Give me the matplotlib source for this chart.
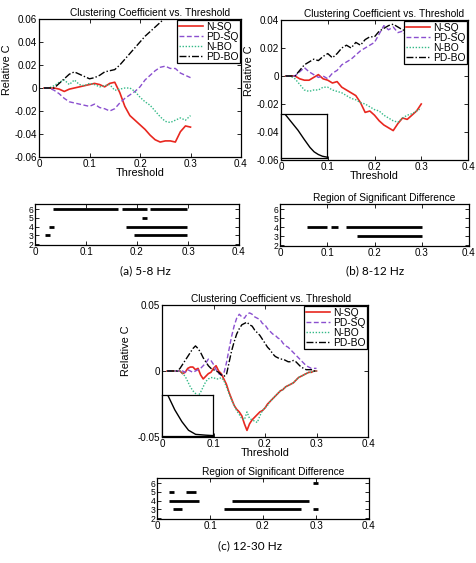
import numpy as np
import matplotlib
matplotlib.use('Agg')
import matplotlib.pyplot as plt
from matplotlib.ticker import FuncFormatter

plt.rcParams['font.family'] = ['Liberation Sans', 'DejaVu Sans']
plt.rcParams['axes.unicode_minus'] = False

# ---------------- data ----------------
series_names = ['N-SQ', 'PD-SQ', 'N-BO', 'PD-BO']

thr_ab = np.round(np.arange(0.01, 0.3001, 0.01), 3)   # 0.01 .. 0.30
thr_c = np.round(np.arange(0.01, 0.3001, 0.005), 3)   # 0.010 .. 0.300

# (a) 5-8 Hz
a_nsq = [0, 0, 0, -0.001, -0.003, -0.001, 0, 0.001, 0.002, 0.003,
         0.004, 0.003, 0.001, 0.004, 0.005, -0.004, -0.016, -0.024, -0.028, -0.032,
         -0.036, -0.041, -0.045, -0.047, -0.046, -0.046, -0.047, -0.038, -0.033, -0.034]
a_pdsq = [0, 0, -0.002, -0.005, -0.009, -0.012, -0.013, -0.014, -0.015, -0.016,
          -0.014, -0.017, -0.018, -0.020, -0.018, -0.013, -0.009, -0.006, -0.003, 0.001,
          0.007, 0.011, 0.015, 0.018, 0.019, 0.017, 0.017, 0.013, 0.011, 0.009]
a_nbo = [0, 0, 0.002, 0.005, 0.007, 0.003, 0.007, 0.003, 0.002, 0.004,
         0.003, 0.001, 0.002, 0.003, -0.002, -0.001, 0.0, 0.0, -0.003, -0.008,
         -0.012, -0.015, -0.020, -0.025, -0.029, -0.030, -0.028, -0.026, -0.028, -0.024]
a_pdbo = [0, 0, 0, 0.004, 0.008, 0.012, 0.014, 0.012, 0.010, 0.008,
          0.009, 0.011, 0.014, 0.015, 0.016, 0.020, 0.025, 0.030, 0.035, 0.040,
          0.045, 0.049, 0.053, 0.057, 0.061, 0.064, 0.066, 0.068, 0.070, 0.071]

# (b) 8-12 Hz
b_nsq = [0, 0, 0, -0.002, -0.003, -0.003, -0.001, 0.001, -0.002, -0.003,
         -0.005, -0.004, -0.008, -0.010, -0.012, -0.014, -0.019, -0.026, -0.025, -0.028,
         -0.032, -0.035, -0.037, -0.039, -0.034, -0.030, -0.031, -0.028, -0.025, -0.020]
b_pdsq = [0, 0, 0, 0.003, 0.006, 0.003, 0.001, -0.001, 0.0, -0.002,
          0.002, 0.004, 0.008, 0.010, 0.012, 0.015, 0.018, 0.020, 0.022, 0.024,
          0.030, 0.036, 0.033, 0.035, 0.031, 0.032, 0.028, 0.027, 0.025, 0.024]
b_nbo = [0, 0, -0.002, -0.006, -0.010, -0.011, -0.010, -0.010, -0.008, -0.008,
         -0.010, -0.011, -0.012, -0.014, -0.016, -0.017, -0.019, -0.020, -0.022, -0.024,
         -0.025, -0.028, -0.030, -0.032, -0.033, -0.030, -0.028, -0.027, -0.025, -0.023]
b_pdbo = [0, 0, 0, 0.004, 0.008, 0.010, 0.012, 0.011, 0.014, 0.016,
          0.013, 0.016, 0.020, 0.022, 0.020, 0.024, 0.022, 0.026, 0.028, 0.028,
          0.032, 0.034, 0.036, 0.037, 0.035, 0.033, 0.032, 0.030, 0.028, 0.027]

# (c) 12-30 Hz
c_nsq = [0, 0, 0, 0, 0, 0,
         -0.002, -0.001, 0.002, 0.003, 0.003, 0.001, 0.002, -0.003, -0.006, -0.004, -0.002, -0.001,
         0.002, 0.004, 0.0, -0.002, -0.006, -0.010, -0.016, -0.021, -0.026, -0.029, -0.031, -0.034,
         -0.040, -0.045, -0.040, -0.037, -0.035, -0.033, -0.031, -0.030, -0.028, -0.025, -0.023, -0.021,
         -0.019, -0.017, -0.015, -0.014, -0.012, -0.011, -0.010, -0.009, -0.007, -0.005, -0.004, -0.003,
         -0.002, -0.001, -0.001, 0.0, 0.0]
c_pdsq = [0, 0, 0, 0, 0, 0,
          0.0, -0.001, 0.001, 0.0, -0.001, 0.0, 0.001, 0.002, 0.004, 0.006, 0.009, 0.008,
          0.005, 0.001, -0.002, -0.003, -0.002, 0.006, 0.016, 0.026, 0.034, 0.040, 0.043, 0.041,
          0.040, 0.043, 0.044, 0.043, 0.041, 0.040, 0.039, 0.036, 0.035, 0.032, 0.030, 0.028,
          0.027, 0.025, 0.024, 0.021, 0.019, 0.018, 0.016, 0.014, 0.012, 0.010, 0.008, 0.006,
          0.004, 0.003, 0.002, 0.002, 0.002]
c_nbo = [0, 0, 0, 0, 0, 0,
         -0.002, -0.004, -0.008, -0.012, -0.015, -0.017, -0.019, -0.016, -0.012, -0.008, -0.006, -0.005,
         -0.005, -0.006, -0.006, -0.005, -0.007, -0.012, -0.017, -0.022, -0.026, -0.030, -0.033, -0.036,
         -0.037, -0.031, -0.036, -0.037, -0.038, -0.039, -0.034, -0.030, -0.028, -0.026, -0.023, -0.021,
         -0.019, -0.017, -0.015, -0.014, -0.012, -0.011, -0.010, -0.009, -0.007, -0.005, -0.004, -0.003,
         -0.002, -0.001, -0.001, 0.0, 0.0]
c_pdbo = [0, 0, 0, 0, 0, 0.002,
          0.005, 0.008, 0.011, 0.014, 0.017, 0.019, 0.017, 0.014, 0.010, 0.007, 0.004, 0.002,
          0.001, 0.0, -0.001, -0.003, -0.004, -0.003, 0.006, 0.015, 0.022, 0.028, 0.032, 0.035,
          0.036, 0.037, 0.035, 0.034, 0.031, 0.029, 0.027, 0.024, 0.021, 0.018, 0.016, 0.013,
          0.011, 0.010, 0.009, 0.009, 0.008, 0.007, 0.007, 0.008, 0.007, 0.005, 0.003, 0.002,
          0.001, 0.001, 0.001, 0.0, 0.0]

# inset curves (normalised units)
inset_b_x = [0.10, 0.20, 0.37, 0.50, 0.63, 0.72, 0.81, 0.90, 1.00]
inset_b_y = [0.98, 0.85, 0.63, 0.43, 0.24, 0.14, 0.08, 0.04, 0.02]
inset_c_x = [0.12, 0.25, 0.39, 0.52, 0.66, 0.86, 1.00]
inset_c_y = [0.98, 0.64, 0.35, 0.14, 0.04, 0.02, 0.01]

# regions of significant difference: row, start, end
a_rows = [6, 6, 6, 5, 4, 4, 3, 3]
a_start = [0.036, 0.171, 0.225, 0.209, 0.027, 0.178, 0.020, 0.194]
a_end = [0.163, 0.219, 0.299, 0.220, 0.037, 0.299, 0.029, 0.299]
b_rows = [4, 4, 4, 3]
b_start = [0.058, 0.107, 0.139, 0.163]
b_end = [0.100, 0.123, 0.300, 0.300]
c_rows = [6, 5, 5, 4, 4, 3, 3, 3]
c_start = [0.294, 0.022, 0.054, 0.022, 0.142, 0.030, 0.126, 0.294]
c_end = [0.303, 0.032, 0.073, 0.080, 0.287, 0.048, 0.271, 0.303]

xticks = [0, 0.1, 0.2, 0.3, 0.4]
row_ticks = [2, 3, 4, 5, 6]
captions = ['(a) 5-8 Hz', '(b) 8-12 Hz', '(c) 12-30 Hz']

# ---------------- styling ----------------
colors = ['#e8271f', '#8a4fcf', '#33b987', '#000000']
styles = ['-', (0, (3.5, 1.8)), (0, (1, 1.2)), (0, (5, 1.5, 1, 1.5))]
widths = [1.2, 1.0, 1.0, 1.0]

W, H = 476, 563
fig = plt.figure(figsize=(W / 100, H / 100), dpi=100)


def rect(l, t, r, b):
    return [l / W, 1 - b / H, (r - l) / W, (b - t) / H]


fmt = FuncFormatter(lambda v, p: '%g' % round(v, 4))
FS = 7.1


def style_axes(ax, fs=FS):
    ax.tick_params(direction='in', top=True, right=True, length=3, width=0.6,
                   labelsize=fs, pad=1.5)
    for s in ax.spines.values():
        s.set_linewidth(0.9)
    ax.xaxis.set_major_formatter(fmt)
    ax.yaxis.set_major_formatter(fmt)


def main_panel(r, thr, data, ylim, yticks, inset=None, inset_rect=None, ylab_xy=(-0.15, 0.64),
               title_x=0.55):
    ax = fig.add_axes(rect(*r))
    for d, name, c, ls, lw in zip(data, series_names, colors, styles, widths):
        ax.plot(thr, d, color=c, ls=ls, lw=lw, label=name)
    ax.set_xticks(xticks)
    ax.set_yticks(yticks)
    ax.set_xlim(0, 0.4)
    ax.set_ylim(*ylim)
    style_axes(ax)
    ax.set_title('Clustering Coefficient vs. Threshold', fontsize=7.3, x=title_x, pad=2.5)
    ax.set_xlabel('Threshold', fontsize=7.8, labelpad=-0.5)
    ax.set_ylabel('Relative C', fontsize=7.8)
    ax.yaxis.set_label_coords(*ylab_xy)
    leg = ax.legend(loc='upper right', fontsize=7.4, frameon=True, fancybox=False,
                    edgecolor='black', framealpha=1, borderaxespad=0.1, borderpad=0.15,
                    labelspacing=0.0, handlelength=2.4, handletextpad=0.25)
    leg.get_frame().set_linewidth(0.9)
    if inset is not None:
        iax = fig.add_axes(rect(*inset_rect))
        iax.plot(inset[0], inset[1], color='k', lw=1.0)
        iax.set_xlim(0, 1)
        iax.set_ylim(0, 1)
        iax.set_xticks([])
        iax.set_yticks([])
        for s in iax.spines.values():
            s.set_linewidth(0.9)
    return ax


def region_panel(r, rows, starts, ends, title=None):
    ax = fig.add_axes(rect(*r))
    ax.hlines(rows, starts, ends, color='k', lw=2.0)
    ax.set_xticks(xticks)
    ax.set_yticks(row_ticks)
    ax.set_xlim(0, 0.4)
    ax.set_ylim(1.9, 6.6)
    style_axes(ax)
    ax.tick_params(axis='y', labelsize=6.2, pad=1)
    if title:
        ax.set_title(title, fontsize=7.3, pad=2, x=0.55)
    return ax


# (a)
main_panel((39, 19, 241, 157), thr_ab, [a_nsq, a_pdsq, a_nbo, a_pdbo],
           (-0.06, 0.06), [-0.06, -0.04, -0.02, 0, 0.02, 0.04, 0.06],
           ylab_xy=(-0.135, 0.63))
region_panel((35, 204, 239, 245), a_rows, a_start, a_end)

# (b)
main_panel((281, 20, 468, 160), thr_ab, [b_nsq, b_pdsq, b_nbo, b_pdbo],
           (-0.06, 0.04), [-0.06, -0.04, -0.02, 0, 0.02, 0.04],
           inset=(inset_b_x, inset_b_y), inset_rect=(281, 114, 327, 158),
           ylab_xy=(-0.145, 0.64))
region_panel((280, 204, 469, 246), b_rows, b_start, b_end,
             title='Region of Significant Difference')

# (c)
main_panel((162, 305, 368, 437), thr_c, [c_nsq, c_pdsq, c_nbo, c_pdbo],
           (-0.05, 0.05), [-0.05, 0, 0.05],
           inset=(inset_c_x, inset_c_y), inset_rect=(162, 395, 213, 436),
           ylab_xy=(-0.15, 0.65), title_x=0.53)
region_panel((157, 478, 369, 519), c_rows, c_start, c_end,
             title='Region of Significant Difference')

# captions
for txt, (x, y) in zip(captions, [(145, 271), (375, 271), (250, 546)]):
    fig.text(x / W, 1 - y / H, txt, ha='center', va='center', fontsize=8.5,
             family=['Lato', 'DejaVu Sans'])

fig.savefig('out.png', dpi=100)
